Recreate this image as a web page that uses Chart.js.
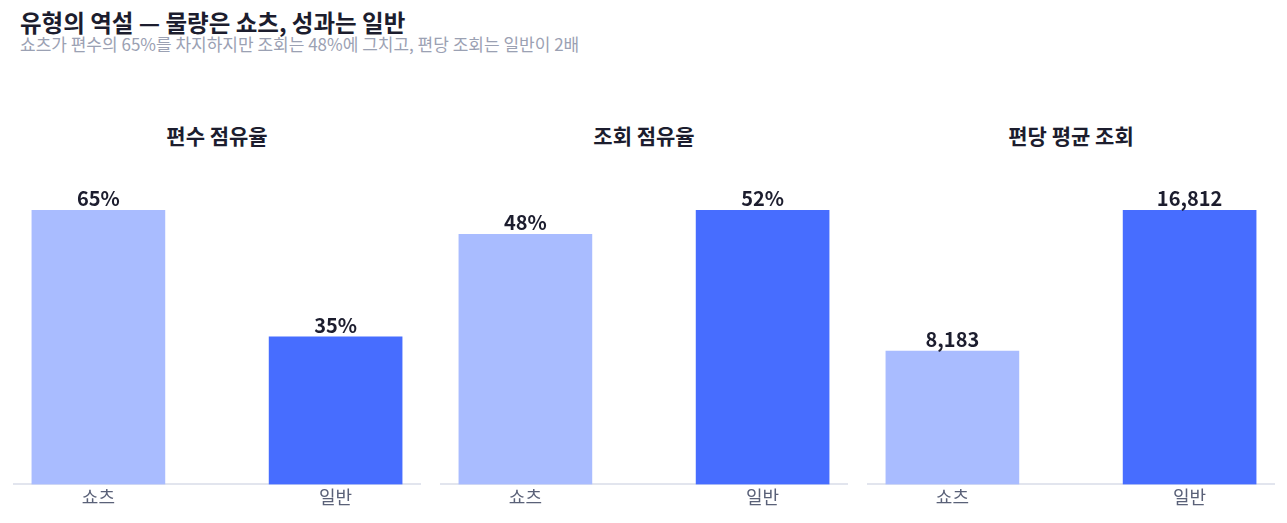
<!DOCTYPE html>
<html><head><meta charset="utf-8">
<script src="https://cdn.jsdelivr.net/npm/chart.js@4"></script>
<style>
html,body{margin:0;padding:0;background:#fff;width:1287px;height:523px;overflow:hidden;font-family:"Noto Sans CJK KR","Noto Sans",sans-serif;}
#title{position:absolute;left:20px;top:7px;font-size:23.5px;font-weight:700;color:#1c1d2e;line-height:30px;white-space:nowrap;}
#sub{position:absolute;left:20px;top:34px;font-size:17px;color:#9ba1b3;line-height:20px;white-space:nowrap;}
.pt{position:absolute;top:120px;width:408px;text-align:center;font-size:21px;font-weight:700;color:#1c1d2e;line-height:30px;}
.cv{position:absolute;top:150px;width:408px;height:373px;}
</style></head><body>
<div id="title">유형의 역설 — 물량은 쇼츠, 성과는 일반</div>
<div id="sub">쇼츠가 편수의 65%를 차지하지만 조회는 48%에 그치고, 편당 조회는 일반이 2배</div>
<div class="pt" style="left:13px">편수 점유율</div>
<div class="pt" style="left:440px">조회 점유율</div>
<div class="pt" style="left:867px">편당 평균 조회</div>
<div class="cv" style="left:13px"><canvas id="c0"></canvas></div>
<div class="cv" style="left:440px"><canvas id="c1"></canvas></div>
<div class="cv" style="left:867px"><canvas id="c2"></canvas></div>
<script>
const categories = ['쇼츠', '일반'];
const panelTitles = ['편수 점유율', '조회 점유율', '편당 평균 조회'];
const countShare = [65, 35];
const viewShare = [47.7, 52.3];
const avgViews = [8183, 16812];
const barColors = ['#a9bcff', '#476dff'];

const FONT = '"Noto Sans CJK KR","Noto Sans",sans-serif';

const valueLabels = {
  id: 'valueLabels',
  afterDatasetsDraw(chart, args, opts) {
    const ctx = chart.ctx;
    const meta = chart.getDatasetMeta(0);
    ctx.save();
    ctx.font = '700 20px ' + FONT;
    ctx.fillStyle = '#1c1d2e';
    ctx.textAlign = 'center';
    ctx.textBaseline = 'alphabetic';
    meta.data.forEach((bar, i) => {
      const v = chart.data.datasets[0].data[i].y;
      ctx.fillText(opts.fmt(v), bar.x, bar.y - 4);
    });
    ctx.restore();
  }
};

function makeChart(id, values, fmt) {
  const maxV = Math.max(...values);
  new Chart(document.getElementById(id), {
    type: 'bar',
    data: {
      datasets: [{
        data: values.map((v, i) => ({x: i, y: v})),
        backgroundColor: barColors,
        barThickness: 133,
        borderWidth: 0
      }]
    },
    options: {
      responsive: true,
      maintainAspectRatio: false,
      animation: false,
      layout: {padding: {top: 0, bottom: 13, left: 0, right: 0}},
      plugins: {legend: {display: false}, tooltip: {enabled: false}, valueLabels: {fmt}},
      scales: {
        x: {
          type: 'linear',
          min: -0.36, max: 1.36,
          offset: false,
          grid: {display: false, drawTicks: false},
          border: {display: true, color: '#e2e5ee', width: 2},
          afterBuildTicks: (s) => { s.ticks = categories.map((c, i) => ({value: i})); },
          ticks: {
            autoSkip: false,
            maxRotation: 0,
            padding: 2,
            color: '#5a6178',
            font: {family: FONT, size: 18},
            callback: (v) => categories[v]
          }
        },
        y: {
          display: false,
          min: 0,
          max: maxV * 1.22
        }
      }
    },
    plugins: [valueLabels]
  });
}

makeChart('c0', countShare, v => Math.round(v) + '%');
makeChart('c1', viewShare, v => Math.round(v) + '%');
makeChart('c2', avgViews, v => v.toLocaleString('en-US'));
</script>
</body></html>
